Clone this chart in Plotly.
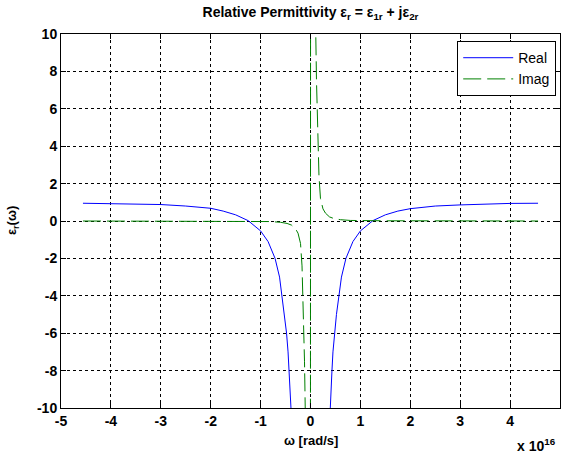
import plotly.graph_objects as go

# omega in units of 1e16 rad/s
real_w = [-4.56, -4.0, -3.5, -3.0, -2.5, -2.0, -1.75, -1.5, -1.25, -1.0, -0.85, -0.71,
          -0.62, -0.57, -0.52, -0.48, -0.45, -0.43, -0.41, -0.39, -0.37, -0.33,
          0.0,
          0.33, 0.37, 0.39, 0.41, 0.43, 0.45, 0.48, 0.52, 0.57, 0.62, 0.71, 0.85,
          1.0, 1.25, 1.5, 1.75, 2.0, 2.5, 3.0, 3.5, 4.0, 4.56]
real_eps = [0.95, 0.93, 0.91, 0.88, 0.80, 0.68, 0.53, 0.33, 0.02, -0.53, -1.1, -2.0,
            -3.0, -4.0, -5.0, -6.0, -7.0, -8.0, -9.0, -10.0, -11.2, -14.0,
            -30.0,
            -14.0, -11.2, -10.0, -9.0, -8.0, -7.0, -6.0, -5.0, -4.0, -3.0, -2.0, -1.1,
            -0.53, 0.02, 0.33, 0.53, 0.66, 0.80, 0.86, 0.91, 0.94, 0.95]

imag_w = [-4.56, -3.0, -2.0, -1.5, -1.0, -0.8, -0.6, -0.47, -0.38, -0.3, -0.25, -0.2,
          -0.17, -0.15, -0.12, -0.10, -0.03,
          0.03, 0.10, 0.12, 0.15, 0.17, 0.2, 0.25, 0.3, 0.38, 0.47, 0.6, 0.8,
          1.0, 1.5, 2.0, 3.0, 4.56]
imag_eps = [0.0, 0.0, -0.01, -0.01, -0.02, -0.03, -0.07, -0.13, -0.22, -0.42, -0.65, -1.2,
            -2.4, -4.0, -7.5, -11.0, -300.0,
            300.0, 11.0, 7.5, 4.0, 2.4, 1.2, 0.65, 0.42, 0.22, 0.13, 0.07, 0.03,
            0.02, 0.01, 0.01, 0.0, 0.0]

x_ticks = [-5, -4, -3, -2, -1, 0, 1, 2, 3, 4, 5]
y_ticks = [-10, -8, -6, -4, -2, 0, 2, 4, 6, 8, 10]

FONT = "Liberation Sans, Arial, sans-serif"

fig = go.Figure()
fig.add_trace(go.Scatter(x=real_w, y=real_eps, mode="lines", name="Real",
                         line=dict(color="#0000ff", width=1)))
fig.add_trace(go.Scatter(x=imag_w, y=imag_eps, mode="lines", name="Imag",
                         line=dict(color="#008000", width=1, dash="18px,6px")))

axis_common = dict(
    showline=True, linecolor="black", linewidth=1, mirror="allticks",
    ticks="inside", ticklen=5, tickcolor="black",
    showgrid=True, gridcolor="black", griddash="3px,3px", gridwidth=1,
    zeroline=False,
    tickfont=dict(family=FONT, size=14, color="black", weight="bold"),
)

fig.update_xaxes(range=[-5, 5], tickvals=x_ticks, ticktext=[str(v) for v in x_ticks], **axis_common)
fig.update_yaxes(range=[-10, 10], tickvals=y_ticks, ticktext=[str(v) for v in y_ticks], **axis_common)

fig.update_layout(
    width=563, height=458,
    margin=dict(l=61, r=3, t=34, b=50),
    paper_bgcolor="white", plot_bgcolor="white",
    font=dict(family=FONT, color="black"),
    title=dict(text="Relative Permittivity ε<sub>r</sub> = ε<sub>1r</sub> + jε<sub>2r</sub>",
               x=0.5, xref="paper", xanchor="center", y=0.974, yanchor="middle",
               font=dict(family=FONT, size=14, color="black", weight="bold")),
    showlegend=True,
    legend=dict(x=0.794, y=0.981, xanchor="left", yanchor="top",
                bgcolor="white", bordercolor="black", borderwidth=1,
                font=dict(family=FONT, size=14, color="black"),
                tracegroupgap=0, itemwidth=50),
    annotations=[
        dict(text="ω [rad/s]", x=0.5, y=-0.087, xref="paper", yref="paper",
             xanchor="center", yanchor="middle", showarrow=False,
             font=dict(family=FONT, size=13, color="black", weight="bold")),
        dict(text="ε<sub>r</sub>(ω)", x=-0.098, y=0.5, xref="paper", yref="paper",
             xanchor="center", yanchor="middle", showarrow=False, textangle=-90,
             font=dict(family=FONT, size=13, color="black", weight="bold")),
        dict(text="x 10<sup>16</sup>", x=0.995, y=-0.1, xref="paper", yref="paper",
             xanchor="right", yanchor="middle", showarrow=False,
             font=dict(family=FONT, size=14, color="black", weight="bold")),
    ],
)

fig.write_html("out.html")
